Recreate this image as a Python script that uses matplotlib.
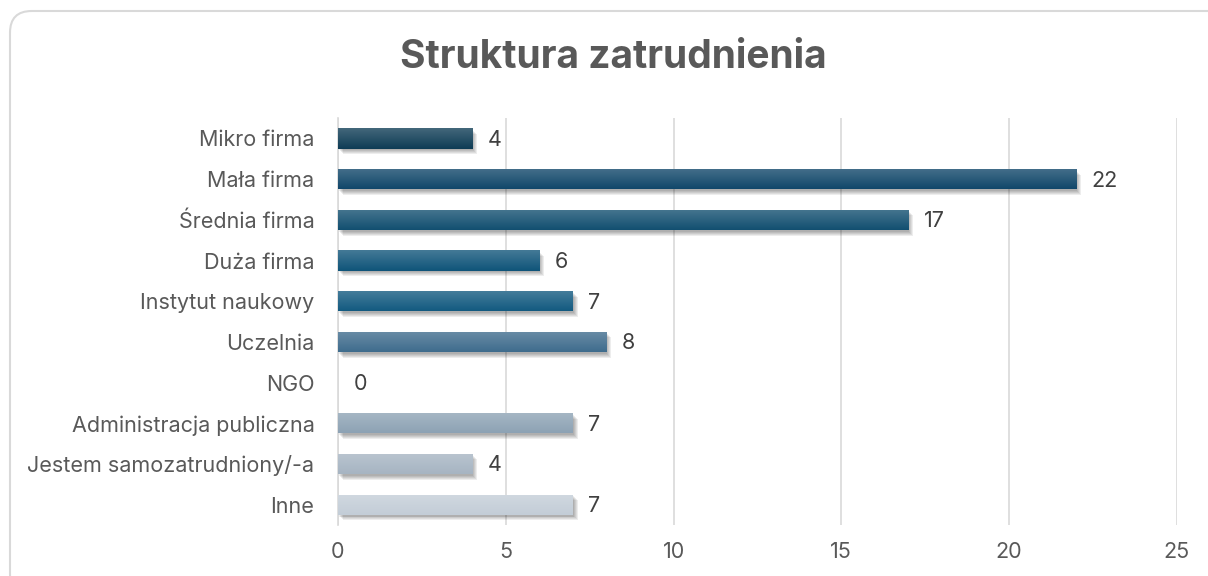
import numpy as np
import matplotlib.pyplot as plt
import matplotlib.patheffects as pe
from matplotlib.colors import to_rgb
from matplotlib.patches import FancyBboxPatch

# Data
categories = ['Mikro firma', 'Mała firma', 'Średnia firma', 'Duża firma',
              'Instytut naukowy', 'Uczelnia', 'NGO', 'Administracja publiczna',
              'Jestem samozatrudniony/-a', 'Inne']
counts = [4, 22, 17, 6, 7, 8, 0, 7, 4, 7]
bar_colors = ['#0e3c55', '#11476a', '#124f70', '#0f5479', '#135a80',
              '#3f6c8d', '#6f8aa3', '#8da2b4', '#a6b4c2', '#c3cdd7']
x_ticks = [0, 5, 10, 15, 20, 25]

plt.rcParams['font.family'] = ['Inter', 'DejaVu Sans']

fig = plt.figure(figsize=(12.08, 5.76), dpi=100)
ax = fig.add_axes([0.2798, 0.0885, 0.6945, 0.7065])

# rounded chart frame
frame = FancyBboxPatch((10 / 1208, -20 / 576), 1.05 - 10 / 1208, 1.0 - 11 / 576 + 20 / 576,
                       boxstyle='round,pad=0,rounding_size=0.018',
                       transform=fig.transFigure, facecolor='none',
                       edgecolor='#d9d9d9', linewidth=1.5, mutation_aspect=1208 / 576)
fig.patches.append(frame)

y = np.arange(len(categories))
bars = ax.barh(y, counts, height=0.5, color=bar_colors, zorder=3)

# soft shadow: a few stacked faint shadows
shadow = [pe.SimplePatchShadow(offset=(o, -o - 0.5), shadow_rgbFace='#000000', alpha=0.07)
          for o in (3.5, 2.8, 2.1, 1.4, 0.7)] + [pe.Normal()]
for b, c in zip(bars, bar_colors):
    if b.get_width() == 0:
        continue
    b.set_path_effects(shadow)
    base = np.array(to_rgb(c))
    top = base + (1 - base) * 0.22
    grad = np.linspace(0, 1, 64)[:, None, None]
    img = top * (1 - grad) + base * grad
    x0, y0 = b.get_x(), b.get_y()
    im = ax.imshow(img, extent=(x0, x0 + b.get_width(), y0 + b.get_height(), y0),
                   aspect='auto', zorder=4, interpolation='bilinear')
    im.set_clip_path(b)

for yi, v in zip(y, counts):
    ax.annotate(str(v), (v, yi), xytext=(11, -1), textcoords='offset points',
                va='center', ha='left', fontsize=15.5, color='#404040', zorder=5)

ax.set_xlim(0, 25)
ax.set_ylim(len(categories) - 0.5, -0.5)
ax.set_xticks(x_ticks)
ax.set_yticks(y)
ax.set_yticklabels(categories)
ax.tick_params(axis='both', length=0, labelsize=15.5, labelcolor='#595959')
ax.tick_params(axis='y', pad=17)
ax.tick_params(axis='x', pad=12)
ax.grid(axis='x', color='#d9d9d9', linewidth=1.2, zorder=0)
for s in ['top', 'right', 'bottom']:
    ax.spines[s].set_visible(False)
ax.spines['left'].set_color('#d9d9d9')
ax.spines['left'].set_linewidth(1.2)

fig.text(0.508, 0.9, 'Struktura zatrudnienia', ha='center', va='center',
         fontsize=28, fontweight='bold', color='#595959')

fig.savefig('out.png', dpi=100)
